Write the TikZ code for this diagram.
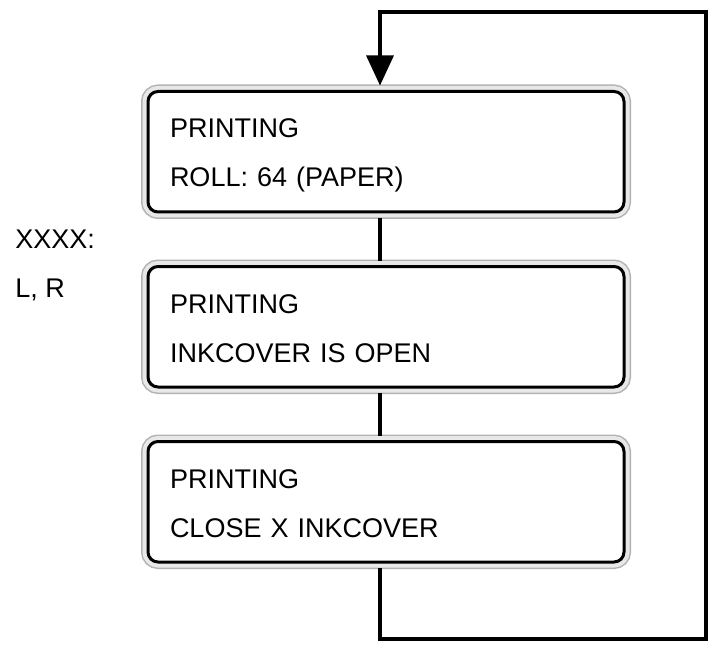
\documentclass[tikz,border=0pt]{standalone}
\usepackage{fontspec}
\setmainfont{Liberation Sans}
\usetikzlibrary{arrows.meta}

\tikzset{
  panel/.style={draw=black, line width=1.5pt, rounded corners=5pt, fill=white,
    preaction={draw=gray!60, line width=7pt},
    preaction={draw=gray!18, line width=5.5pt},
    minimum width=238pt, minimum height=60.25pt, text width=216pt,
    inner xsep=11pt, inner ysep=0pt, outer sep=0pt, align=left,
    text height=12pt, text depth=25.75pt, font=\fontsize{13.5}{24.5}\selectfont},
  sidenote/.style={align=left, inner sep=0pt, font=\fontsize{13.5}{24.5}\selectfont},
  wire/.style={line width=1.6pt},
}

\begin{document}
\begin{tikzpicture}[x=0.5pt, y=-0.5pt]
  % --- layout (pixel units, y runs down) ---
  \def\cx{386}     % centre of the panels
  \def\top{151.75} % centre of first panel
  \def\gap{175}    % panel pitch
  \useasboundingbox (0,0) rectangle (715,646);

  % --- helper points for the feedback loop ---
  \coordinate (spine) at (380,0);
  \coordinate (loopbr) at (706,639);
  \coordinate (looptr) at (706,12);

  % --- the three display panels ---
  \foreach \i/\msg in {1/ROLL: 64 (PAPER), 2/INKCOVER IS OPEN, 3/CLOSE X INKCOVER} {
    \node[panel] (box\i) at (\cx, {\top+(\i-1)*\gap}) {PRINTING\\\msg};
  }

  % --- key note on the left ---
  \node[sidenote, anchor=base west] (keys) at (15,297) {XXXX:\\L, R};

  % --- links between panels ---
  \foreach \a/\b in {1/2, 2/3} {
    \draw[wire, shorten <=3pt, shorten >=3pt]
      (box\a.south -| spine) -- (box\b.north -| spine);
  }

  % --- loop back to the top ---
  \draw[wire, shorten <=3pt, shorten >=3pt, -{Triangle[width=13.5pt, length=15pt]}]
    (box3.south -| spine) |- (loopbr) -- (looptr) -| (box1.north -| spine);
\end{tikzpicture}
\end{document}
